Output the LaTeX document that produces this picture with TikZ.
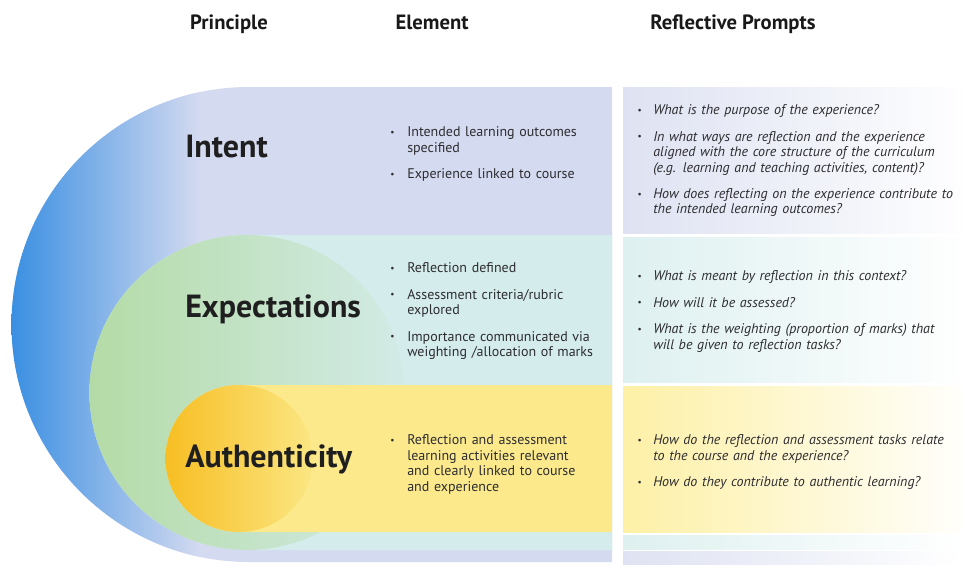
\documentclass[tikz,border=0pt]{standalone}
\usepackage{fontspec}
\setmainfont{PT Sans}
\definecolor{intentblue}{RGB}{58,143,226}
\definecolor{intentmid}{RGB}{128,178,236}
\definecolor{intentlav}{RGB}{212,218,240}
\definecolor{expgreen}{RGB}{180,219,166}
\definecolor{expaqua}{RGB}{213,236,236}
\definecolor{authorange}{RGB}{247,190,35}
\definecolor{authmid}{RGB}{250,216,80}
\definecolor{authyellow}{RGB}{251,233,140}
\definecolor{promptlav}{RGB}{222,226,242}
\definecolor{promptaqua}{RGB}{222,240,240}
\definecolor{promptyellow}{RGB}{253,240,166}
\definecolor{inktext}{RGB}{45,45,48}

% bullet line with hanging indent
\newcommand{\nl}{\hfil\break}
\newcommand{\bul}[2]{\par\hangindent=#1\hangafter=1\noindent
  \makebox[#1][l]{\raisebox{0.2ex}{\scriptsize\textbullet}}#2\par\vspace{8.2pt}}

\begin{document}
\begin{tikzpicture}[x=0.75pt,y=-0.75pt,line join=round,
  colhead/.style={font=\fontsize{15.5}{18}\selectfont\bfseries,text=black!90,inner sep=0pt,anchor=base},
  principle/.style={font=\fontsize{24}{27}\selectfont\bfseries,text=black!88,anchor=base west,inner sep=0pt},
  elemlist/.style={anchor=north west,inner sep=0pt,text width=200pt,align=left,
    font=\fontsize{10.5}{11.6}\selectfont,text=inktext},
  promptlist/.style={anchor=north west,inner sep=0pt,text width=270pt,align=left,
    font=\fontsize{10.5}{11.6}\selectfont\itshape,text=inktext}]
\useasboundingbox (0,0) rectangle (962,564);

% intent band (outer)
\fill[intentlav] (612,87) -- (249,87) arc[start angle=270,end angle=90,radius=237.5] -- (612,562) -- cycle;
\begin{scope}
\clip (249,324.5) circle[radius=237.5];
\shade[left color=intentblue,middle color=intentmid,right color=intentlav] (11,80) rectangle (200,570);
\end{scope}

% expectations band
\fill[expaqua] (612,235) -- (247,235) arc[start angle=270,end angle=90,radius=157.5] -- (612,550) -- cycle;
\begin{scope}
\clip (247,392.5) circle[radius=157.5];
\shade[left color=expgreen,right color=expaqua!92!expgreen] (89,230) rectangle (405,555);
\end{scope}

% authenticity band (inner)
\fill[authyellow] (612,385) -- (239,385) arc[start angle=270,end angle=90,radius=73.5] -- (612,532) -- cycle;
\begin{scope}
\clip (239,458.5) circle[radius=73.5];
\shade[left color=authorange,middle color=authmid,right color=authyellow!85!authmid] (165,380) rectangle (313,535);
\end{scope}

% prompt column panels
\shade[left color=promptlav,right color=white!97!promptlav] (623,87) rectangle (962,233);
\shade[left color=promptaqua,right color=white!98!promptaqua] (623,237) rectangle (962,382);
\shade[left color=promptyellow,right color=white!96!promptyellow] (623,386) rectangle (962,532);
\shade[left color=promptaqua,right color=white] (623,535) rectangle (962,549);
\shade[left color=promptlav,right color=white] (623,551) rectangle (962,564);

% column headings
\node[colhead] (hPrin) at (229,29) {Principle};
\node[colhead] (hElem) at (432,29) {Element};
\node[colhead] (hProm) at (733,29) {Reflective Prompts};

% principles
\node[principle] (intent) at (185,157) {Intent};
\node[principle] (expect) at (185,317) {Expectations};
\node[principle] (auth) at (185,467) {Authenticity};

% elements
\node[elemlist] (elemI) at (390,121) {%
  \bul{12.75pt}{Intended learning outcomes\nl specified}
  \bul{12.75pt}{Experience linked to course}};
\node[elemlist] (elemE) at (390,257) {%
  \bul{12.75pt}{Reflection defined}
  \bul{12.75pt}{Assessment criteria/rubric\nl explored}
  \bul{12.75pt}{Importance communicated via\nl weighting /allocation of marks}};
\node[elemlist] (elemA) at (390,429) {%
  \bul{12.75pt}{Reflection and assessment\nl learning activities relevant\nl and clearly linked to course\nl and experience}};

% reflective prompts
\node[promptlist] (promI) at (637,99) {%
  \bul{12pt}{What is the purpose of the experience?}
  \bul{12pt}{In what ways are reflection and the experience\nl aligned with the core structure of the curriculum\nl (e.g. learning and teaching activities, content)?}
  \bul{12pt}{How does reflecting on the experience contribute to\nl the intended learning outcomes?}};
\node[promptlist] (promE) at (637,265) {%
  \bul{12pt}{What is meant by reflection in this context?}
  \bul{12pt}{How will it be assessed?}
  \bul{12pt}{What is the weighting (proportion of marks) that\nl will be given to reflection tasks?}};
\node[promptlist] (promA) at (637,429) {%
  \bul{12pt}{How do the reflection and assessment tasks relate\nl to the course and the experience?}
  \bul{12pt}{How do they contribute to authentic learning?}};
\end{tikzpicture}
\end{document}
